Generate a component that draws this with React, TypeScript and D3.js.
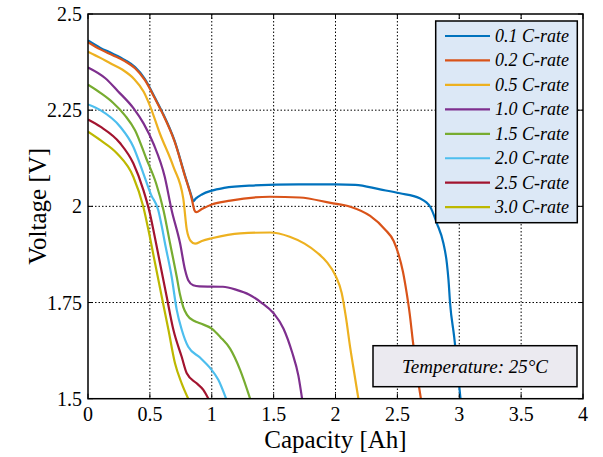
import React from "react";
import * as d3 from "d3";

const W = 603;
const H = 457;

const xTicks = [0, 0.5, 1, 1.5, 2, 2.5, 3, 3.5, 4];
const xTickLabels = ["0", "0.5", "1", "1.5", "2", "2.5", "3", "3.5", "4"];
const yTicks = [1.5, 1.75, 2, 2.25, 2.5];
const yTickLabels = ["1.5", "1.75", "2", "2.25", "2.5"];

const seriesNames = [
  "0.1 C-rate", "0.2 C-rate", "0.5 C-rate", "1.0 C-rate",
  "1.5 C-rate", "2.0 C-rate", "2.5 C-rate", "3.0 C-rate",
];
const seriesColors = [
  "#0072BD", "#D95319", "#EDB120", "#7E2F8E",
  "#77AC30", "#4DBEEE", "#A2142F", "#BDB800",
];

const c01: [number, number][] = [
  [0, 2.431], [0.1, 2.412], [0.2, 2.397], [0.3, 2.38], [0.38, 2.362], [0.46, 2.331],
  [0.54, 2.283], [0.6, 2.245], [0.7, 2.17], [0.784, 2.08], [0.838, 2.025], [0.85, 2.013],
  [0.87, 2.02], [0.92, 2.031], [1.0, 2.041], [1.1, 2.048], [1.31, 2.054], [1.7, 2.057],
  [2.0, 2.057], [2.16, 2.056], [2.36, 2.044], [2.52, 2.034], [2.68, 2.021], [2.765, 1.999],
  [2.819, 1.956], [2.872, 1.904], [2.9, 1.852], [2.913, 1.809], [2.926, 1.748],
  [2.959, 1.661], [3.01, 1.5],
];
const c02: [number, number][] = [
  [0, 2.427], [0.1, 2.408], [0.2, 2.393], [0.3, 2.377], [0.38, 2.359], [0.46, 2.328],
  [0.54, 2.281], [0.6, 2.243], [0.7, 2.168], [0.784, 2.078], [0.838, 2.02], [0.86, 1.99],
  [0.875, 1.985], [0.92, 1.993], [1.0, 2.005], [1.15, 2.015], [1.47, 2.025], [1.71, 2.023],
  [1.96, 2.009], [2.12, 1.999], [2.28, 1.975], [2.4, 1.94], [2.47, 1.91], [2.51, 1.875],
  [2.545, 1.83], [2.575, 1.775], [2.6, 1.72], [2.625, 1.65], [2.655, 1.575], [2.69, 1.5],
];
const c05: [number, number][] = [
  [0, 2.402], [0.1, 2.386], [0.18, 2.372], [0.28, 2.355], [0.37, 2.332], [0.45, 2.298],
  [0.5, 2.262], [0.58, 2.19], [0.69, 2.103], [0.77, 2.02], [0.798, 1.94], [0.83, 1.91],
  [0.865, 1.903], [0.92, 1.91], [1.0, 1.917], [1.23, 1.93], [1.47, 1.932], [1.63, 1.921],
  [1.75, 1.903], [1.85, 1.88], [1.93, 1.855], [2.0, 1.82], [2.05, 1.775], [2.085, 1.71],
  [2.12, 1.63], [2.15, 1.57], [2.185, 1.5],
];
const c10: [number, number][] = [
  [0, 2.361], [0.14, 2.333], [0.24, 2.3], [0.37, 2.254], [0.45, 2.215], [0.53, 2.162],
  [0.62, 2.077], [0.676, 1.99], [0.744, 1.904], [0.784, 1.835], [0.81, 1.808], [0.85, 1.795],
  [0.9, 1.792], [1.09, 1.791], [1.2, 1.783], [1.3, 1.771], [1.4, 1.75], [1.5, 1.722],
  [1.58, 1.682], [1.65, 1.62], [1.7, 1.56], [1.73, 1.5],
];
const c15: [number, number][] = [
  [0, 2.316], [0.1, 2.295], [0.2, 2.27], [0.3, 2.236], [0.38, 2.198], [0.47, 2.125],
  [0.55, 2.06], [0.61, 1.99], [0.663, 1.904], [0.717, 1.817], [0.744, 1.77], [0.77, 1.738],
  [0.8, 1.718], [0.86, 1.702], [0.905, 1.696], [1.0, 1.682], [1.07, 1.66], [1.148, 1.63],
  [1.229, 1.575], [1.31, 1.5],
];
const c20: [number, number][] = [
  [0, 2.265], [0.1, 2.25], [0.26, 2.207], [0.366, 2.155], [0.447, 2.086], [0.51, 2.03],
  [0.568, 1.99], [0.595, 1.95], [0.622, 1.904], [0.676, 1.817], [0.717, 1.731],
  [0.757, 1.68], [0.81, 1.635], [0.905, 1.607], [0.986, 1.58], [1.053, 1.549], [1.116, 1.5],
];
const c25: [number, number][] = [
  [0, 2.226], [0.1, 2.207], [0.26, 2.164], [0.366, 2.112], [0.447, 2.043], [0.5, 1.982],
  [0.528, 1.939], [0.582, 1.852], [0.636, 1.765], [0.69, 1.679], [0.757, 1.609],
  [0.798, 1.566], [0.878, 1.54], [0.932, 1.523], [0.973, 1.5],
];
const c30: [number, number][] = [
  [0, 2.194], [0.1, 2.172], [0.233, 2.138], [0.366, 2.077], [0.447, 1.999], [0.488, 1.939],
  [0.542, 1.852], [0.596, 1.765], [0.65, 1.679], [0.703, 1.592], [0.757, 1.54], [0.81, 1.5],
];
const seriesData = [c01, c02, c05, c10, c15, c20, c25, c30];

const FONT = "Liberation Serif, Tinos, Times New Roman, Times, DejaVu Serif, Noto Serif, serif";

export default function App() {
  const left = 88, right = 583, top = 14, bottom = 398.7;
  const x = d3.scaleLinear().domain([0, 4]).range([left, right]);
  const y = d3.scaleLinear().domain([1.5, 2.5]).range([bottom, top]);
  const line = d3
    .line<[number, number]>()
    .x((d) => x(d[0]))
    .y((d) => y(d[1]))
    .curve(d3.curveMonotoneX);

  const tickLen = 5;
  const legX = 435.7, legY = 21, legW = 141.6, legH = 201.7;
  const legRow0 = 36, legStep = 24.45;

  return (
    <svg
      width={W}
      height={H}
      style={{ position: "absolute", left: 0, top: 0, background: "#fff" }}
    >
      <defs>
        <clipPath id="plotclip">
          <rect x={left} y={top} width={right - left} height={bottom - top} />
        </clipPath>
      </defs>
      <rect x={left} y={top} width={right - left} height={bottom - top} fill="#fff" />
      {xTicks.slice(1, -1).map((t) => (
        <line key={"gx" + t} x1={x(t)} x2={x(t)} y1={top} y2={bottom}
          stroke="#000" strokeWidth={1} strokeDasharray="1.5,2" />
      ))}
      {yTicks.slice(1, -1).map((t) => (
        <line key={"gy" + t} x1={left} x2={right} y1={y(t)} y2={y(t)}
          stroke="#000" strokeWidth={1} strokeDasharray="1.5,2" />
      ))}
      <g clipPath="url(#plotclip)">
        {seriesData.map((d, i) => (
          <path key={i} d={line(d) || ""} fill="none" stroke={seriesColors[i]}
            strokeWidth={2.2} strokeLinejoin="round" />
        ))}
      </g>
      {xTicks.map((t) => (
        <g key={"tx" + t}>
          <line x1={x(t)} x2={x(t)} y1={bottom} y2={bottom - tickLen} stroke="#000" strokeWidth={1} />
          <line x1={x(t)} x2={x(t)} y1={top} y2={top + tickLen} stroke="#000" strokeWidth={1} />
        </g>
      ))}
      {yTicks.map((t) => (
        <g key={"ty" + t}>
          <line x1={left} x2={left + tickLen} y1={y(t)} y2={y(t)} stroke="#000" strokeWidth={1} />
          <line x1={right} x2={right - tickLen} y1={y(t)} y2={y(t)} stroke="#000" strokeWidth={1} />
        </g>
      ))}
      <rect x={left} y={top} width={right - left} height={bottom - top}
        fill="none" stroke="#000" strokeWidth={1.5} />
      {xTicks.map((t, i) => (
        <text key={"lx" + t} x={x(t)} y={421} textAnchor="middle" fontSize={20} fill="#000"
          fontFamily={FONT}>
          {xTickLabels[i]}
        </text>
      ))}
      {yTicks.map((t, i) => (
        <text key={"ly" + t} x={82} y={y(t) + 7} textAnchor="end" fontSize={20} fill="#000"
          fontFamily={FONT}>
          {yTickLabels[i]}
        </text>
      ))}
      <text x={(left + right) / 2} y={448} textAnchor="middle" fontSize={25} fill="#000"
        fontFamily={FONT}>
        Capacity [Ah]
      </text>
      <text transform={`translate(37,${(top + bottom) / 2}) rotate(-90)`} textAnchor="middle"
        fontSize={25} fill="#000" dy="0.35em" fontFamily={FONT}>
        Voltage [V]
      </text>
      <rect x={legX} y={legY} width={legW} height={legH} fill="#DCE8F6" stroke="#000" strokeWidth={1.5} />
      {seriesNames.map((n, i) => {
        const cy = legRow0 + i * legStep;
        return (
          <g key={"leg" + i}>
            <line x1={445} x2={490} y1={cy} y2={cy} stroke={seriesColors[i]} strokeWidth={2.2} />
            <text x={495} y={cy + 6} fontSize={18} fontStyle="italic" fill="#000" fontFamily={FONT}>{n}</text>
          </g>
        );
      })}
      <rect x={373} y={345.7} width={204} height={41} fill="#EBEAF0" stroke="#000" strokeWidth={1.5} />
      <text x={475} y={373} textAnchor="middle" fontSize={19} fontStyle="italic" fill="#000"
        fontFamily={FONT}>
        Temperature: 25°C
      </text>
    </svg>
  );
}
